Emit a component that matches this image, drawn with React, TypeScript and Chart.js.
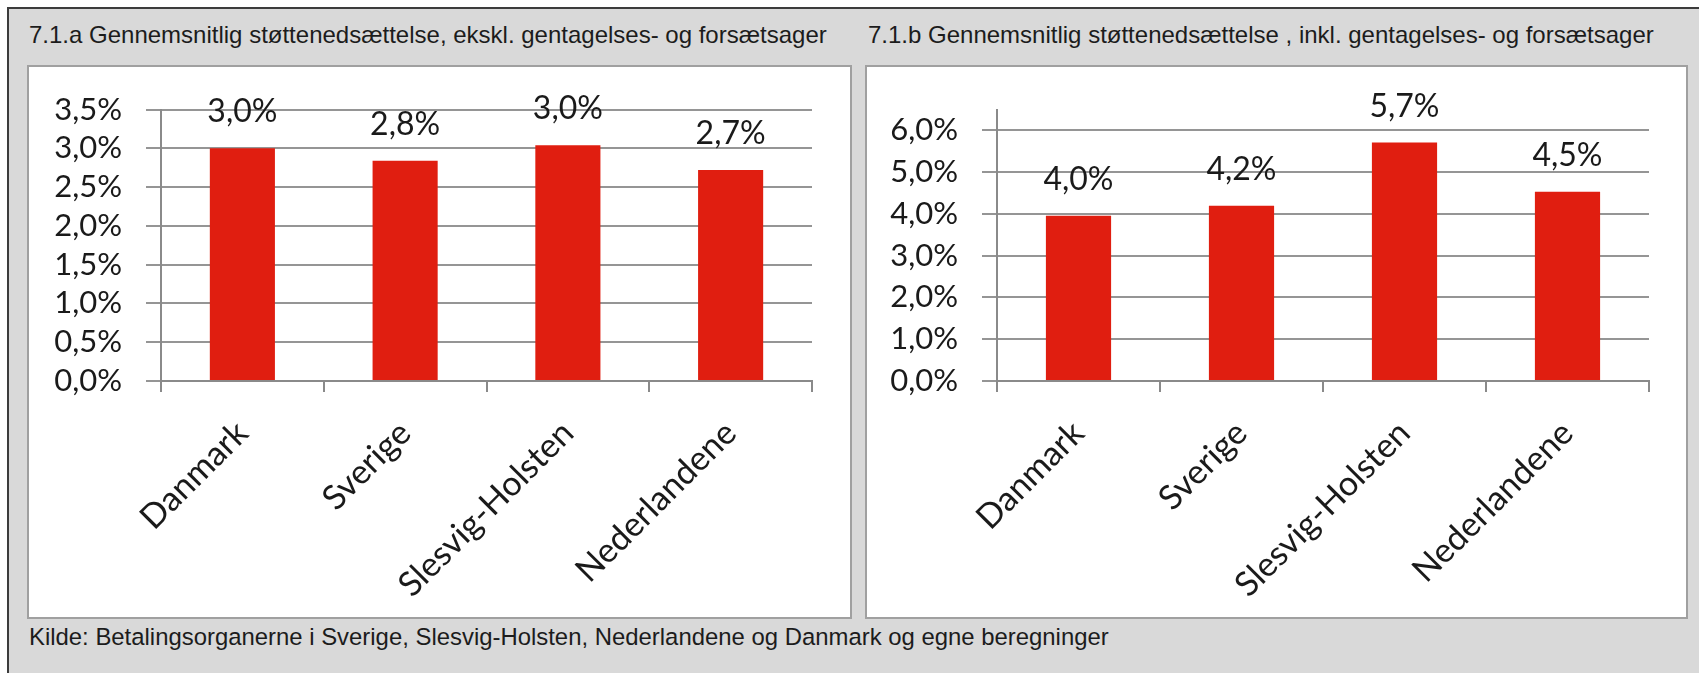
import React, { useEffect, useRef } from "react";
import { Chart, registerables } from "chart.js";

Chart.register(...registerables);

const categories = ["Danmark", "Sverige", "Slesvig-Holsten", "Nederlandene"];
const valuesExcl = [3.0, 2.84, 3.04, 2.72];
const valuesIncl = [3.96, 4.2, 5.71, 4.53];
const ticksExcl = [0, 0.5, 1, 1.5, 2, 2.5, 3, 3.5];
const ticksIncl = [0, 1, 2, 3, 4, 5, 6];
const maxExcl = 3.5;
const maxIncl = 6.5;
const titleA = "7.1.a Gennemsnitlig støttenedsættelse, ekskl. gentagelses- og forsætsager";
const titleB = "7.1.b Gennemsnitlig støttenedsættelse , inkl. gentagelses- og forsætsager";
const sourceText =
  "Kilde: Betalingsorganerne i Sverige, Slesvig-Holsten, Nederlandene og Danmark og egne beregninger";

const RED = "rgb(224, 30, 16)";
const GRID = "#959595";
const AXIS = "#8a8a8a";
const TEXT = "#1a1a1a";
const LABEL_FONT = "Lato";

const fmt = (v: number) => v.toFixed(1).replace(".", ",") + "%";

const valueLabelPlugin = {
  id: "valueLabels",
  afterDatasetsDraw(chart: any) {
    const ctx = chart.ctx;
    const meta = chart.getDatasetMeta(0);
    const data = chart.data.datasets[0].data as number[];
    ctx.save();
    ctx.font = `32px ${LABEL_FONT}`;
    ctx.fillStyle = TEXT;
    ctx.textAlign = "center";
    ctx.textBaseline = "alphabetic";
    meta.data.forEach((bar: any, i: number) => {
      ctx.fillText(fmt(data[i]), bar.x, bar.y - 26);
    });
    ctx.restore();
  },
};

type BarProps = {
  values: number[];
  tickValues: number[];
  max: number;
  width: number;
  height: number;
  yWidth: number;
  rightPad: number;
  topPad: number;
  xHeight: number;
};

function BarPanel(props: BarProps) {
  const ref = useRef<HTMLCanvasElement | null>(null);
  useEffect(() => {
    if (!ref.current) return;
    const chart = new Chart(ref.current, {
      type: "bar",
      data: {
        labels: categories,
        datasets: [
          {
            data: props.values,
            backgroundColor: RED,
            borderWidth: 0,
            barPercentage: 0.4,
            categoryPercentage: 1,
          },
        ],
      },
      options: {
        animation: false,
        responsive: false,
        maintainAspectRatio: false,
        layout: { padding: { left: 0, top: props.topPad, right: props.rightPad, bottom: 0 } },
        plugins: { legend: { display: false }, tooltip: { enabled: false } },
        scales: {
          x: {
            offset: true,
            grid: {
              display: true,
              offset: true,
              drawOnChartArea: false,
              drawTicks: true,
              tickLength: 11,
              color: AXIS,
              lineWidth: 2,
            },
            border: { display: true, color: AXIS, width: 2 },
            ticks: {
              minRotation: 45,
              maxRotation: 45,
              autoSkip: false,
              padding: 21,
              color: TEXT,
              font: { family: LABEL_FONT, size: 34 },
            },
            afterFit: (s: any) => {
              s.height = props.xHeight;
            },
          },
          y: {
            min: 0,
            max: props.max,
            afterBuildTicks: (s: any) => {
              s.ticks = props.tickValues.map((v) => ({ value: v }));
            },
            grid: { color: GRID, lineWidth: 2, drawTicks: true, tickLength: 15 },
            border: { display: true, color: AXIS, width: 2 },
            ticks: {
              autoSkip: false,
              padding: 24,
              color: TEXT,
              font: { family: LABEL_FONT, size: 31 },
              callback: (v: any) => fmt(Number(v)),
            },
            afterFit: (s: any) => {
              s.width = props.yWidth;
            },
          },
        },
      },
      plugins: [valueLabelPlugin],
    });
    return () => chart.destroy();
  }, []);
  return <canvas ref={ref} width={props.width} height={props.height} style={{ display: "block" }} />;
}

const titleStyle: React.CSSProperties = {
  position: "absolute",
  fontFamily: "'Liberation Sans', Arial, sans-serif",
  fontSize: 24,
  lineHeight: "24px",
  color: "#1c1c1c",
  whiteSpace: "nowrap",
};

export default function App() {
  return (
    <div
      style={{
        position: "fixed",
        left: 0,
        top: 0,
        width: 1699,
        height: 673,
        overflow: "hidden",
        background: "#ffffff",
      }}
    >
      <div
        style={{
          position: "absolute",
          left: 7,
          top: 7,
          width: 1740,
          height: 720,
          background: "#d9d9d9",
          borderLeft: "2px solid #3c3c3c",
          borderTop: "2px solid #3c3c3c",
        }}
      />
      <div style={{ ...titleStyle, left: 29, top: 23 }}>{titleA}</div>
      <div style={{ ...titleStyle, left: 868, top: 23 }}>{titleB}</div>
      <div
        style={{
          position: "absolute",
          left: 27,
          top: 65,
          width: 821,
          height: 550,
          background: "#ffffff",
          border: "2px solid #a0a0a0",
        }}
      >
        <BarPanel
          values={valuesExcl}
          tickValues={ticksExcl}
          max={maxExcl}
          width={821}
          height={550}
          yWidth={132}
          rightPad={38}
          topPad={40}
          xHeight={236}
        />
      </div>
      <div
        style={{
          position: "absolute",
          left: 865,
          top: 65,
          width: 819,
          height: 550,
          background: "#ffffff",
          border: "2px solid #a0a0a0",
        }}
      >
        <BarPanel
          values={valuesIncl}
          tickValues={ticksIncl}
          max={maxIncl}
          width={819}
          height={550}
          yWidth={130}
          rightPad={37}
          topPad={40}
          xHeight={236}
        />
      </div>
      <div style={{ ...titleStyle, left: 29, top: 625, fontSize: 23.9 }}>{sourceText}</div>
    </div>
  );
}
